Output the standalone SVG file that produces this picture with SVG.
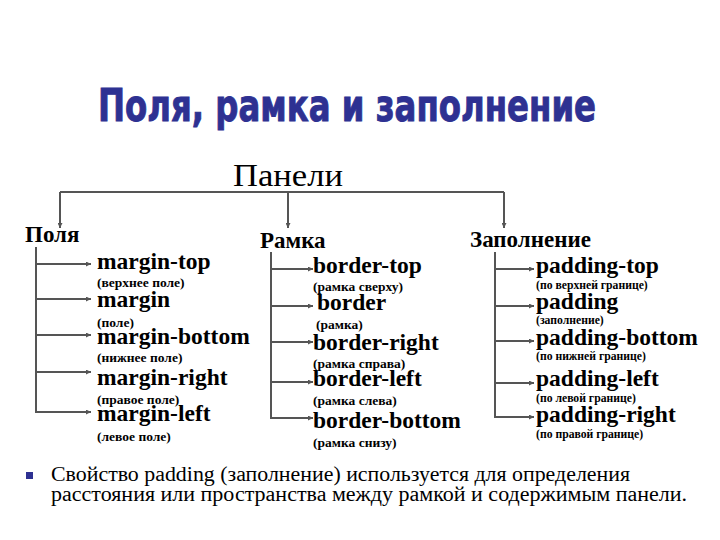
<svg xmlns="http://www.w3.org/2000/svg" width="720" height="540" viewBox="0 0 720 540">
<defs>
<marker id="ah" viewBox="0 0 10 10" refX="10" refY="5" markerWidth="5" markerHeight="5" orient="auto" markerUnits="userSpaceOnUse">
<path d="M0,0 L10,5 L0,10 z" fill="#555"/>
</marker>
<style>
.title{font-family:"DejaVu Sans","Liberation Sans",sans-serif;font-weight:bold;font-size:44px;fill:#2E3192;stroke:#2E3192;stroke-width:1px}
.panel{font-family:"Liberation Serif",serif;font-size:31px;fill:#000}
.head{font-family:"Liberation Serif",serif;font-weight:bold;font-size:23px;fill:#000}
.item{font-family:"Liberation Serif",serif;font-weight:bold;font-size:23.5px;fill:#000}
.sub{font-family:"Liberation Serif",serif;font-weight:bold;font-size:13.5px;fill:#000}
.subs{font-family:"Liberation Serif",serif;font-weight:bold;font-size:11.7px;fill:#000}
.note{font-family:"Liberation Serif","Times New Roman",serif;font-size:20px;fill:#000}
.ln{fill:none;stroke:#555;stroke-width:2}
.ar{fill:none;stroke:#555;stroke-width:2;marker-end:url(#ah)}
</style>
</defs>
<rect width="720" height="540" fill="#fff"/>
<g id="title"><text class="title" x="98" y="121" textLength="498" lengthAdjust="spacingAndGlyphs">Поля, рамка и заполнение</text></g>
<g id="connectors">
<path class="ln" d="M60,192 H504"/>
<path class="ar" d="M60,192 V228"/>
<path class="ar" d="M288,192 V228"/>
<path class="ar" d="M504,192 V228"/>
<path class="ln" d="M36,247 V412"/>
<path class="ar" d="M36,264 H91"/>
<path class="ar" d="M36,299 H91"/>
<path class="ar" d="M36,335 H91"/>
<path class="ar" d="M36,372 H91"/>
<path class="ar" d="M35,412 H91"/>
<path class="ln" d="M271,252 V418"/>
<path class="ar" d="M271,269 H313"/>
<path class="ar" d="M271,306 H313"/>
<path class="ar" d="M271,342 H313"/>
<path class="ar" d="M271,382 H313"/>
<path class="ar" d="M270,418 H313"/>
<path class="ln" d="M495,252 V417"/>
<path class="ar" d="M495,269 H534"/>
<path class="ar" d="M495,306 H534"/>
<path class="ar" d="M495,341 H534"/>
<path class="ar" d="M495,383 H534"/>
<path class="ar" d="M494,417 H534"/>
</g>
<g id="panels"><text class="panel" x="233" y="186" textLength="110" lengthAdjust="spacingAndGlyphs">Панели</text></g>
<g id="margins">
<text class="head" x="25" y="242">Поля</text>
<text class="item" x="97" y="269">margin-top</text>
<text class="sub" x="97" y="287">(верхнее поле)</text>
<text class="item" x="97" y="307">margin</text>
<text class="sub" x="97" y="327">(поле)</text>
<text class="item" x="97" y="344">margin-bottom</text>
<text class="sub" x="97" y="362">(нижнее поле)</text>
<text class="item" x="97" y="385">margin-right</text>
<text class="sub" x="97" y="404">(правое поле)</text>
<text class="item" x="97" y="421">margin-left</text>
<text class="sub" x="97" y="441">(левое поле)</text>
</g>
<g id="border">
<text class="head" x="260" y="248">Рамка</text>
<text class="item" x="313" y="273">border-top</text>
<text class="sub" x="313" y="291">(рамка сверху)</text>
<text class="item" x="317" y="310">border</text>
<text class="sub" x="316" y="329">(рамка)</text>
<text class="item" x="313" y="350">border-right</text>
<text class="sub" x="313" y="368">(рамка справа)</text>
<text class="item" x="313" y="386">border-left</text>
<text class="sub" x="313" y="405">(рамка слева)</text>
<text class="item" x="313" y="428">border-bottom</text>
<text class="sub" x="313" y="447">(рамка снизу)</text>
</g>
<g id="padding">
<text class="head" x="470" y="247">Заполнение</text>
<text class="item" x="536" y="273">padding-top</text>
<text class="subs" x="536" y="289">(по верхней границе)</text>
<text class="item" x="536" y="309">padding</text>
<text class="subs" x="536" y="324">(заполнение)</text>
<text class="item" x="536" y="345">padding-bottom</text>
<text class="subs" x="536" y="360">(по нижней границе)</text>
<text class="item" x="536" y="386">padding-left</text>
<text class="subs" x="536" y="402">(по левой границе)</text>
<text class="item" x="536" y="422">padding-right</text>
<text class="subs" x="536" y="438">(по правой границе)</text>
</g>
<g id="note">
<rect x="26" y="472" width="7" height="7" fill="#2E3192"/>
<text class="note" x="51" y="481" textLength="579" lengthAdjust="spacingAndGlyphs">Свойство padding (заполнение) используется для определения</text>
<text class="note" x="51" y="501" textLength="636" lengthAdjust="spacingAndGlyphs">расстояния или пространства между рамкой и содержимым панели.</text>
</g>
</svg>
